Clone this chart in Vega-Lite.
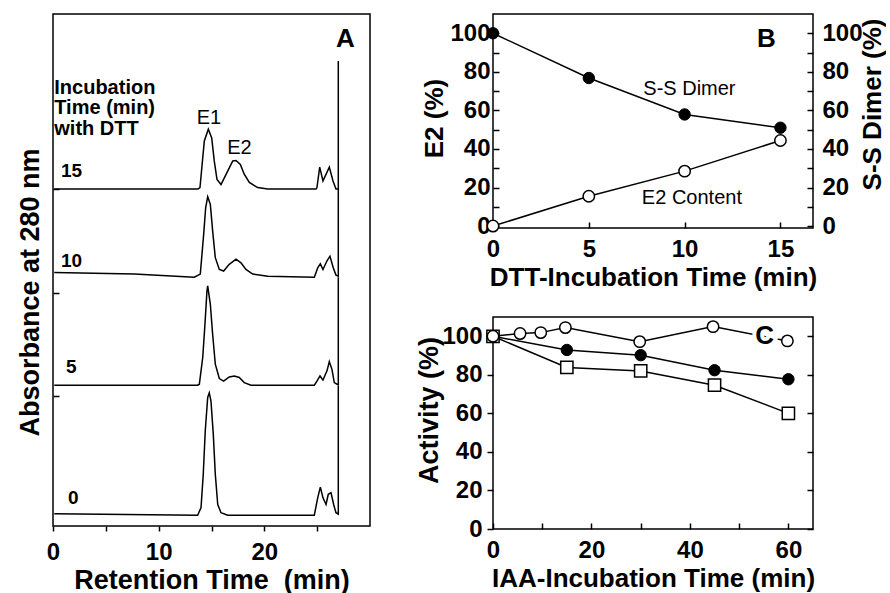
{
  "$schema": "https://vega.github.io/schema/vega-lite/v6.json",
  "padding": {"left": 15, "top": 13, "right": 0, "bottom": 0},
  "background": "white",
  "spacing": 43,
  "config": {
    "font": "Liberation Sans",
    "view": {"stroke": "black", "strokeWidth": 1.5},
    "axis": {"domain": false, "grid": false, "labelFont": "Liberation Sans", "labelFontWeight": "bold", "labelFontSize": 24, "labelColor": "black", "titleFont": "Liberation Sans", "titleFontWeight": "bold", "titleFontSize": 26, "titleColor": "black", "tickColor": "black", "tickWidth": 1.5, "labelOverlap": false, "labelFlush": false, "labelBound": false},
    "text": {"font": "Liberation Sans", "color": "black"}
  },
  "datasets": {
    "traces": [
      {"run": "15", "i": 0, "t": 0.1, "a": 6.58}, {"run": "15", "i": 1, "t": 9.3, "a": 6.58}, {"run": "15", "i": 2, "t": 13.72, "a": 6.58}, {"run": "15", "i": 3, "t": 13.91, "a": 6.61}, {"run": "15", "i": 4, "t": 14.32, "a": 7.52}, {"run": "15", "i": 5, "t": 14.7, "a": 7.75}, {"run": "15", "i": 6, "t": 15.02, "a": 7.58}, {"run": "15", "i": 7, "t": 15.26, "a": 7.13}, {"run": "15", "i": 8, "t": 15.52, "a": 6.77}, {"run": "15", "i": 9, "t": 15.9, "a": 6.67}, {"run": "15", "i": 10, "t": 16.53, "a": 6.93}, {"run": "15", "i": 11, "t": 17.01, "a": 7.13}, {"run": "15", "i": 12, "t": 17.32, "a": 7.14}, {"run": "15", "i": 13, "t": 17.73, "a": 7.06}, {"run": "15", "i": 14, "t": 18.1, "a": 6.87}, {"run": "15", "i": 15, "t": 18.58, "a": 6.71}, {"run": "15", "i": 16, "t": 19.37, "a": 6.61}, {"run": "15", "i": 17, "t": 20.32, "a": 6.58}, {"run": "15", "i": 18, "t": 24.89, "a": 6.58}, {"run": "15", "i": 19, "t": 24.98, "a": 6.61}, {"run": "15", "i": 20, "t": 25.24, "a": 7.01}, {"run": "15", "i": 21, "t": 25.55, "a": 6.74}, {"run": "15", "i": 22, "t": 26.15, "a": 7.01}, {"run": "15", "i": 23, "t": 26.5, "a": 6.74}, {"run": "15", "i": 24, "t": 26.78, "a": 6.58}, {"run": "15", "i": 25, "t": 27.0, "a": 6.58}, {"run": "15", "i": 26, "t": 27.0, "a": 9.08},
      {"run": "10", "i": 0, "t": 0.12, "a": 4.95}, {"run": "10", "i": 1, "t": 7.69, "a": 4.92}, {"run": "10", "i": 2, "t": 13.37, "a": 4.86}, {"run": "10", "i": 3, "t": 13.94, "a": 4.92}, {"run": "10", "i": 4, "t": 14.26, "a": 5.7}, {"run": "10", "i": 5, "t": 14.45, "a": 6.22}, {"run": "10", "i": 6, "t": 14.64, "a": 6.43}, {"run": "10", "i": 7, "t": 14.89, "a": 6.28}, {"run": "10", "i": 8, "t": 15.11, "a": 5.76}, {"run": "10", "i": 9, "t": 15.36, "a": 5.24}, {"run": "10", "i": 10, "t": 15.74, "a": 5.01}, {"run": "10", "i": 11, "t": 16.15, "a": 4.98}, {"run": "10", "i": 12, "t": 16.68, "a": 5.11}, {"run": "10", "i": 13, "t": 17.32, "a": 5.21}, {"run": "10", "i": 14, "t": 17.79, "a": 5.14}, {"run": "10", "i": 15, "t": 18.26, "a": 5.01}, {"run": "10", "i": 16, "t": 18.9, "a": 4.92}, {"run": "10", "i": 17, "t": 20.32, "a": 4.88}, {"run": "10", "i": 18, "t": 24.73, "a": 4.86}, {"run": "10", "i": 19, "t": 25.05, "a": 5.04}, {"run": "10", "i": 20, "t": 25.3, "a": 5.12}, {"run": "10", "i": 21, "t": 25.55, "a": 5.01}, {"run": "10", "i": 22, "t": 25.93, "a": 5.18}, {"run": "10", "i": 23, "t": 26.21, "a": 5.27}, {"run": "10", "i": 24, "t": 26.53, "a": 5.04}, {"run": "10", "i": 25, "t": 26.78, "a": 4.9}, {"run": "10", "i": 26, "t": 27.0, "a": 4.88}, {"run": "10", "i": 27, "t": 27.0, "a": 6.58},
      {"run": "5", "i": 0, "t": 0.12, "a": 2.75}, {"run": "5", "i": 1, "t": 13.69, "a": 2.75}, {"run": "5", "i": 2, "t": 13.85, "a": 2.77}, {"run": "5", "i": 3, "t": 14.17, "a": 3.29}, {"run": "5", "i": 4, "t": 14.38, "a": 3.94}, {"run": "5", "i": 5, "t": 14.57, "a": 4.59}, {"run": "5", "i": 6, "t": 14.64, "a": 4.69}, {"run": "5", "i": 7, "t": 14.89, "a": 4.33}, {"run": "5", "i": 8, "t": 15.11, "a": 3.74}, {"run": "5", "i": 9, "t": 15.36, "a": 3.16}, {"run": "5", "i": 10, "t": 15.74, "a": 2.88}, {"run": "5", "i": 11, "t": 16.15, "a": 2.83}, {"run": "5", "i": 12, "t": 16.68, "a": 2.91}, {"run": "5", "i": 13, "t": 17.16, "a": 2.93}, {"run": "5", "i": 14, "t": 17.63, "a": 2.9}, {"run": "5", "i": 15, "t": 18.1, "a": 2.8}, {"run": "5", "i": 16, "t": 18.74, "a": 2.75}, {"run": "5", "i": 17, "t": 24.73, "a": 2.75}, {"run": "5", "i": 18, "t": 24.98, "a": 2.83}, {"run": "5", "i": 19, "t": 25.27, "a": 2.93}, {"run": "5", "i": 20, "t": 25.55, "a": 2.85}, {"run": "5", "i": 21, "t": 25.93, "a": 3.03}, {"run": "5", "i": 22, "t": 26.15, "a": 3.21}, {"run": "5", "i": 23, "t": 26.4, "a": 3.06}, {"run": "5", "i": 24, "t": 26.62, "a": 2.8}, {"run": "5", "i": 25, "t": 26.88, "a": 2.77}, {"run": "5", "i": 26, "t": 27.0, "a": 2.77}, {"run": "5", "i": 27, "t": 27.0, "a": 4.86},
      {"run": "0", "i": 0, "t": 0.12, "a": 0.24}, {"run": "0", "i": 1, "t": 13.69, "a": 0.21}, {"run": "0", "i": 2, "t": 14.01, "a": 0.36}, {"run": "0", "i": 3, "t": 14.22, "a": 1.01}, {"run": "0", "i": 4, "t": 14.41, "a": 1.86}, {"run": "0", "i": 5, "t": 14.64, "a": 2.51}, {"run": "0", "i": 6, "t": 14.79, "a": 2.6}, {"run": "0", "i": 7, "t": 14.95, "a": 2.44}, {"run": "0", "i": 8, "t": 15.17, "a": 1.79}, {"run": "0", "i": 9, "t": 15.36, "a": 1.01}, {"run": "0", "i": 10, "t": 15.59, "a": 0.42}, {"run": "0", "i": 11, "t": 15.9, "a": 0.26}, {"run": "0", "i": 12, "t": 16.53, "a": 0.21}, {"run": "0", "i": 13, "t": 24.73, "a": 0.21}, {"run": "0", "i": 14, "t": 25.05, "a": 0.55}, {"run": "0", "i": 15, "t": 25.3, "a": 0.76}, {"run": "0", "i": 16, "t": 25.55, "a": 0.55}, {"run": "0", "i": 17, "t": 25.84, "a": 0.42}, {"run": "0", "i": 18, "t": 26.05, "a": 0.62}, {"run": "0", "i": 19, "t": 26.31, "a": 0.65}, {"run": "0", "i": 20, "t": 26.56, "a": 0.42}, {"run": "0", "i": 21, "t": 26.78, "a": 0.26}, {"run": "0", "i": 22, "t": 27.0, "a": 0.23}, {"run": "0", "i": 23, "t": 27.0, "a": 2.75}
    ],
    "runLabels": [
      {"t": 0.76, "a": 6.93, "txt": "15"}, {"t": 0.76, "a": 5.18, "txt": "10"}, {"t": 1.23, "a": 3.11, "txt": "5"}, {"t": 1.42, "a": 0.55, "txt": "0"}
    ],
    "legendA": [
      {"t": 0.12, "a": 8.56, "txt": "Incubation"}, {"t": 0.12, "a": 8.17, "txt": "Time (min)"}, {"t": 0.12, "a": 7.75, "txt": "with DTT"}
    ],
    "peaks": [
      {"t": 14.76, "a": 7.96, "txt": "E1"}, {"t": 17.65, "a": 7.39, "txt": "E2"}
    ],
    "panelA": [{"t": 27.68, "a": 9.52, "txt": "A"}],
    "e2": [
      {"t": 0, "v": 0}, {"t": 5, "v": 15.5}, {"t": 10, "v": 28.5}, {"t": 15, "v": 44.4}
    ],
    "ss": [
      {"t": 0, "v": 100}, {"t": 5, "v": 76.8}, {"t": 10, "v": 57.9}, {"t": 15, "v": 51}
    ],
    "textB": [
      {"t": 10.25, "v": 71.0, "txt": "S-S Dimer"}, {"t": 10.38, "v": 14.7, "txt": "E2 Content"}
    ],
    "letterB": [{"t": 14.27, "v": 96.9, "txt": "B"}],
    "act": [
      {"s": "open", "t": 0, "v": 100}, {"s": "open", "t": 5.5, "v": 101.4}, {"s": "open", "t": 9.7, "v": 101.9}, {"s": "open", "t": 14.7, "v": 104.5}, {"s": "open", "t": 29.8, "v": 97.2}, {"s": "open", "t": 44.7, "v": 105}, {"s": "open", "t": 59.8, "v": 97.6},
      {"s": "filled", "t": 0, "v": 100}, {"s": "filled", "t": 15, "v": 92.9}, {"s": "filled", "t": 30, "v": 90.2}, {"s": "filled", "t": 45, "v": 82.4}, {"s": "filled", "t": 60, "v": 77.7},
      {"s": "square", "t": 0, "v": 100}, {"s": "square", "t": 15, "v": 83.8}, {"s": "square", "t": 30, "v": 82}, {"s": "square", "t": 45, "v": 74.6}, {"s": "square", "t": 60, "v": 60}
    ],
    "letterC": [{"t": 55.2, "v": 100.1, "txt": "C"}]
  },
  "hconcat": [
    {
      "width": 317,
      "height": 512,
      "encoding": {
        "x": {"field": "t", "type": "quantitative", "scale": {"domain": [0, 30], "nice": false, "zero": false},
          "axis": {"title": "Retention Time\u00a0 (min)", "titleFontSize": 27, "values": [0, 5, 10, 15, 20, 25], "labelExpr": "datum.value % 10 == 0 ? datum.label : ''", "tickSize": 5, "labelPadding": 9, "titleY": 41, "titleBaseline": "top"}},
        "y": {"field": "a", "type": "quantitative", "scale": {"domain": [0, 10], "nice": false, "zero": false},
          "axis": {"title": "Absorbance at 280 nm", "titleFontSize": 27, "labels": false, "values": [2.54, 4.55, 6.58], "tickSize": -6, "titleX": -15, "titleY": 278, "titleAlign": "center", "titleBaseline": "alphabetic", "titleAngle": 270}}
      },
      "layer": [
        {"data": {"name": "traces"}, "mark": {"type": "line", "color": "black", "strokeWidth": 1.5},
          "encoding": {"detail": {"field": "run", "type": "nominal"}, "order": {"field": "i", "type": "quantitative"}}},
        {"data": {"name": "runLabels"}, "mark": {"type": "text", "align": "left", "baseline": "middle", "fontSize": 19, "fontWeight": "bold"},
          "encoding": {"text": {"field": "txt", "type": "nominal"}}},
        {"data": {"name": "legendA"}, "mark": {"type": "text", "align": "left", "baseline": "middle", "fontSize": 20, "fontWeight": "bold"},
          "encoding": {"text": {"field": "txt", "type": "nominal"}}},
        {"data": {"name": "peaks"}, "mark": {"type": "text", "align": "center", "baseline": "middle", "fontSize": 20},
          "encoding": {"text": {"field": "txt", "type": "nominal"}}},
        {"data": {"name": "panelA"}, "mark": {"type": "text", "align": "center", "baseline": "middle", "fontSize": 26, "fontWeight": "bold"},
          "encoding": {"text": {"field": "txt", "type": "nominal"}}}
      ]
    },
    {
      "spacing": 25,
      "vconcat": [
        {
          "width": 320,
          "height": 214,
          "encoding": {
            "x": {"field": "t", "type": "quantitative", "scale": {"domain": [0, 16.7], "nice": false, "zero": false},
              "axis": {"title": "DTT-Incubation Time (min)", "values": [0, 5, 10, 15], "tickSize": -6, "labelPadding": 15, "titleY": 36, "titleBaseline": "top"}}
          },
          "layer": [
            {
              "data": {"name": "e2"},
              "encoding": {"y": {"field": "v", "type": "quantitative", "scale": {"domain": [-1, 110], "nice": false, "zero": false},
                "axis": {"title": "E2 (%)", "orient": "left", "values": [0, 10, 20, 30, 40, 50, 60, 70, 80, 90, 100], "labelExpr": "datum.value % 20 == 0 ? datum.label : ''", "tickSize": -6, "labelPadding": 9, "titleX": -51, "titleY": 104, "titleAlign": "center", "titleBaseline": "alphabetic", "titleAngle": 270}}},
              "layer": [
                {"mark": {"type": "line", "color": "black", "strokeWidth": 1.5}},
                {"mark": {"type": "point", "shape": "circle", "size": 130, "filled": true, "fill": "white", "stroke": "black", "strokeWidth": 1.5, "opacity": 1}}
              ]
            },
            {
              "data": {"name": "ss"},
              "encoding": {"y": {"field": "v", "type": "quantitative", "scale": {"domain": [-1, 110], "nice": false, "zero": false},
                "axis": {"title": "S-S Dimer (%)", "titleFontSize": 26, "orient": "right", "values": [0, 10, 20, 30, 40, 50, 60, 70, 80, 90, 100], "labelExpr": "datum.value % 20 == 0 ? datum.label : ''", "tickSize": -6, "labelPadding": 15, "titleX": 67, "titleY": 90, "titleAlign": "center", "titleBaseline": "alphabetic", "titleAngle": 270}}},
              "layer": [
                {"mark": {"type": "line", "color": "black", "strokeWidth": 1.5}},
                {"mark": {"type": "point", "shape": "circle", "size": 130, "filled": true, "fill": "black", "stroke": "black", "strokeWidth": 1, "opacity": 1}}
              ]
            },
            {
              "data": {"name": "textB"},
              "mark": {"type": "text", "align": "center", "baseline": "middle", "fontSize": 20},
              "encoding": {
                "y": {"field": "v", "type": "quantitative", "scale": {"domain": [-1, 110], "nice": false, "zero": false}, "axis": null},
                "text": {"field": "txt", "type": "nominal"}
              }
            },
            {
              "data": {"name": "letterB"},
              "mark": {"type": "text", "align": "center", "baseline": "middle", "fontSize": 26, "fontWeight": "bold"},
              "encoding": {
                "y": {"field": "v", "type": "quantitative", "scale": {"domain": [-1, 110], "nice": false, "zero": false}, "axis": null},
                "text": {"field": "txt", "type": "nominal"}
              }
            }
          ],
          "resolve": {"scale": {"y": "independent"}}
        },
        {
          "width": 320,
          "height": 212,
          "encoding": {
            "x": {"field": "t", "type": "quantitative", "scale": {"domain": [0, 65], "nice": false, "zero": false},
              "axis": {"title": "IAA-Incubation Time (min)", "values": [0, 10, 20, 30, 40, 50, 60], "labelExpr": "datum.value % 20 == 0 ? datum.label : ''", "tickSize": -6, "labelPadding": 15, "titleY": 36, "titleBaseline": "top"}}
          },
          "layer": [
            {
              "data": {"name": "act"},
              "encoding": {"y": {"field": "v", "type": "quantitative", "scale": {"domain": [0, 110], "nice": false, "zero": false},
                "axis": {"title": "Activity (%)", "titleFontSize": 27, "values": [0, 20, 40, 60, 80, 100], "tickSize": 6, "labelPadding": 5, "titleX": -56, "titleY": 93, "titleAlign": "center", "titleBaseline": "alphabetic", "titleAngle": 270}}},
              "layer": [
                {"mark": {"type": "line", "color": "black", "strokeWidth": 1.5}, "encoding": {"detail": {"field": "s", "type": "nominal"}}},
                {"transform": [{"filter": "datum.s == 'square'"}], "mark": {"type": "point", "shape": "square", "size": 150, "filled": true, "fill": "white", "stroke": "black", "strokeWidth": 1.5, "opacity": 1}},
                {"transform": [{"filter": "datum.s == 'filled'"}], "mark": {"type": "point", "shape": "circle", "size": 130, "filled": true, "fill": "black", "stroke": "black", "strokeWidth": 1, "opacity": 1}},
                {"transform": [{"filter": "datum.s == 'open'"}], "mark": {"type": "point", "shape": "circle", "size": 130, "filled": true, "fill": "white", "stroke": "black", "strokeWidth": 1.5, "opacity": 1}}
              ]
            },
            {
              "data": {"name": "letterC"},
              "encoding": {
                "y": {"field": "v", "type": "quantitative", "scale": {"domain": [0, 110], "nice": false, "zero": false},
                  "axis": {"orient": "right", "title": null, "labels": false, "values": [0, 20, 40, 60, 80, 100], "tickSize": -6}},
                "text": {"field": "txt", "type": "nominal"}
              },
              "layer": [
                {"mark": {"type": "text", "align": "center", "baseline": "middle", "fontSize": 26, "fontWeight": "bold", "color": "white", "stroke": "white", "strokeWidth": 8}},
                {"mark": {"type": "text", "align": "center", "baseline": "middle", "fontSize": 26, "fontWeight": "bold", "color": "black"}}
              ]
            }
          ],
          "resolve": {"scale": {"y": "independent"}}
        }
      ]
    }
  ]
}
